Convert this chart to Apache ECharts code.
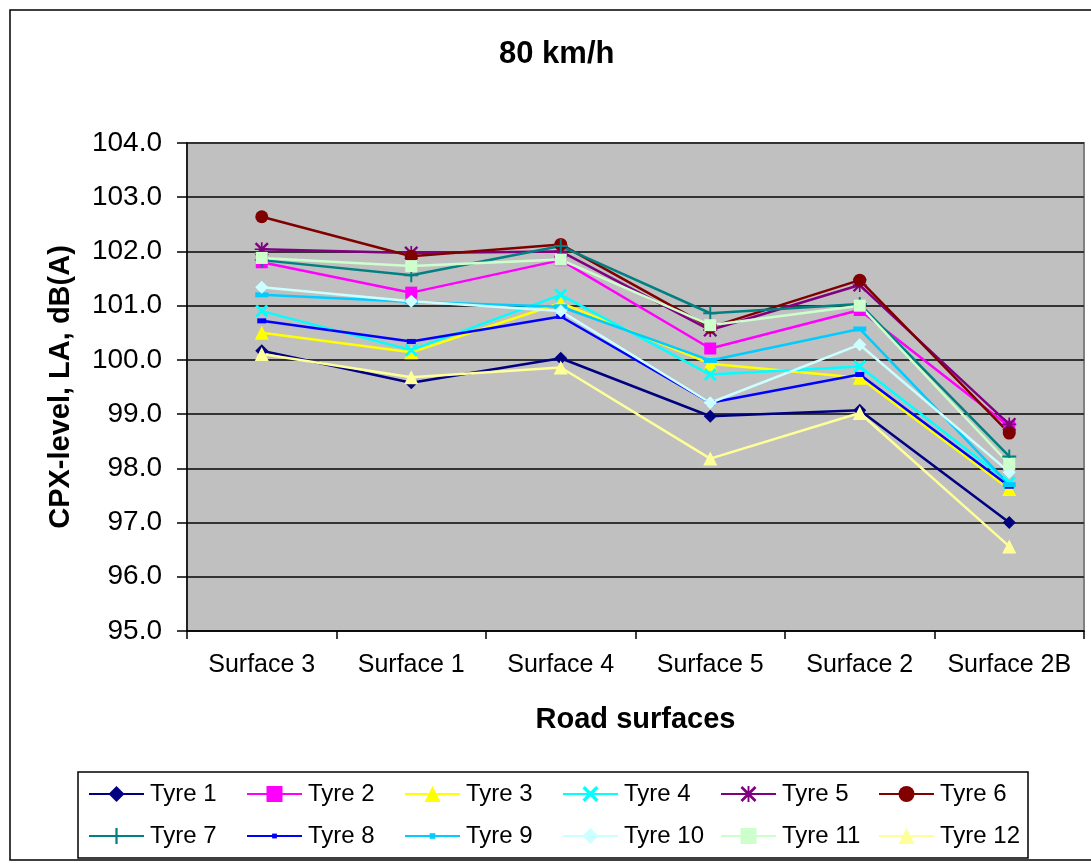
<!DOCTYPE html>
<html>
<head>
<meta charset="utf-8">
<title>80 km/h</title>
<script src="https://cdn.jsdelivr.net/npm/echarts@6/dist/echarts.min.js"></script>
<style>
  html, body { margin: 0; padding: 0; background: #fff; }
  #chart { width: 1091px; height: 863px; }
</style>
</head>
<body>
<div id="chart"></div>
<script>
// road surfaces on the x axis
const surfaces = ['Surface 3', 'Surface 1', 'Surface 4', 'Surface 5', 'Surface 2', 'Surface 2B']

// CPX-level per tyre, dB(A)
const tyre1 = [100.17, 99.58, 100.03, 98.96, 99.07, 97.00]
const tyre2 = [101.80, 101.24, 101.84, 100.21, 100.92, 98.77]
const tyre3 = [100.50, 100.14, 101.05, 99.93, 99.67, 97.62]
const tyre4 = [100.90, 100.18, 101.20, 99.73, 99.88, 97.74]
const tyre5 = [102.04, 101.97, 102.00, 100.55, 101.38, 98.81]
const tyre6 = [102.64, 101.91, 102.13, 100.60, 101.47, 98.65]
const tyre7 = [101.84, 101.56, 102.10, 100.86, 101.03, 98.22]
const tyre8 = [100.72, 100.34, 100.80, 99.21, 99.73, 97.67]
const tyre9 = [101.20, 101.07, 100.98, 99.99, 100.57, 97.70]
const tyre10 = [101.34, 101.08, 100.90, 99.21, 100.28, 97.93]
const tyre11 = [101.88, 101.73, 101.85, 100.64, 101.00, 98.08]
const tyre12 = [100.11, 99.68, 99.86, 98.18, 99.02, 96.56]

const yTicks = [95, 96, 97, 98, 99, 100, 101, 102, 103, 104]

// marker shapes (excel style)
const X_PATH = 'path://M0,1.5L1.5,0L10,8.5L8.5,10Z M8.5,0L10,1.5L1.5,10L0,8.5Z'
const PLUS_PATH = 'path://M4.3,0H5.7V10H4.3Z M0,4.3H10V5.7H0Z'
const STAR_PATH = 'path://M4.4,0H5.6V10H4.4Z M0,4.4H10V5.6H0Z M0,1.2L1.2,0L10,8.8L8.8,10Z M8.8,0L10,1.2L1.2,10L0,8.8Z'

const tyres = [
  {name: 'Tyre 1', data: tyre1, color: '#000080', symbol: 'diamond', size: 13, legendH: 20},
  {name: 'Tyre 2', data: tyre2, color: '#FF00FF', symbol: 'rect', size: 12, legendH: 20},
  {name: 'Tyre 3', data: tyre3, color: '#FFFF00', symbol: 'triangle', size: 14, legendH: 20},
  {name: 'Tyre 4', data: tyre4, color: '#00FFFF', symbol: X_PATH, size: 13, legendH: 20},
  {name: 'Tyre 5', data: tyre5, color: '#800080', symbol: STAR_PATH, size: 14, legendH: 20},
  {name: 'Tyre 6', data: tyre6, color: '#800000', symbol: 'circle', size: 13, legendH: 20},
  {name: 'Tyre 7', data: tyre7, color: '#008080', symbol: PLUS_PATH, size: 14, legendH: 20},
  {name: 'Tyre 8', data: tyre8, color: '#0000FF', symbol: 'rect', size: [9, 5], legendH: 6},
  {name: 'Tyre 9', data: tyre9, color: '#00CCFF', symbol: 'rect', size: [13, 5], legendH: 7},
  {name: 'Tyre 10', data: tyre10, color: '#CCFFFF', symbol: 'diamond', size: 13, legendH: 20},
  {name: 'Tyre 11', data: tyre11, color: '#CCFFCC', symbol: 'rect', size: 12, legendH: 20},
  {name: 'Tyre 12', data: tyre12, color: '#FFFF99', symbol: 'triangle', size: 14, legendH: 20}
]

const FONT = 'Liberation Sans, Arial, sans-serif'

const chart = echarts.init(document.getElementById('chart'))

// one legend per item so columns line up like excel's grid legend
const legends = tyres.map((t, i) => ({
  data: [t.name],
  left: 88 + (i % 6) * 158,
  top: i < 6 ? 782 : 824,
  padding: 0,
  itemWidth: 55,
  itemHeight: t.legendH,
  itemGap: 0,
  selectedMode: false,
  textStyle: {fontFamily: FONT, fontSize: 24, color: '#000', lineHeight: 24, padding: [0, 0, 0, 1]}
}))

const option = {
  animation: false,
  backgroundColor: '#fff',
  title: {
    text: '80 km/h',
    left: 499,
    top: 39,
    padding: 0,
    textStyle: {fontFamily: FONT, fontSize: 31, fontWeight: 'bold', color: '#000'}
  },
  legend: legends,
  grid: {
    left: 187,
    top: 143,
    width: 897,
    height: 488,
    show: true,
    backgroundColor: '#C0C0C0',
    borderColor: '#808080',
    borderWidth: 2
  },
  xAxis: {
    type: 'category',
    data: surfaces,
    boundaryGap: true,
    name: 'Road surfaces',
    nameLocation: 'middle',
    nameGap: 74,
    nameTextStyle: {fontFamily: FONT, fontSize: 29, fontWeight: 'bold', color: '#000'},
    axisLine: {lineStyle: {color: '#000', width: 1.5}},
    axisTick: {show: true, length: 8, lineStyle: {color: '#000', width: 1.5}},
    axisLabel: {fontFamily: FONT, fontSize: 25, color: '#000', margin: 22, interval: 0},
    splitLine: {show: false}
  },
  yAxis: {
    type: 'value',
    min: yTicks[0],
    max: yTicks[yTicks.length - 1],
    interval: 1,
    name: 'CPX-level, LA, dB(A)',
    nameLocation: 'middle',
    nameGap: 112,
    nameTextStyle: {fontFamily: FONT, fontSize: 29, fontWeight: 'bold', color: '#000'},
    axisLine: {show: true, lineStyle: {color: '#000', width: 1.5}},
    axisTick: {show: true, length: 10, lineStyle: {color: '#000', width: 1.5}},
    axisLabel: {
      fontFamily: FONT,
      fontSize: 28,
      color: '#000',
      margin: 25,
      formatter: v => v.toFixed(1)
    },
    splitLine: {show: true, lineStyle: {color: '#333', width: 2}}
  },
  graphic: [
    {
      type: 'rect',
      shape: {x: 10, y: 10, width: 1100, height: 850},
      style: {fill: 'none', stroke: '#000', lineWidth: 1.5},
      silent: true,
      z: -1
    },
    {
      type: 'rect',
      shape: {x: 78, y: 772, width: 950, height: 86},
      style: {fill: 'none', stroke: '#000', lineWidth: 1.5},
      silent: true
    }
  ],
  series: tyres.map(t => ({
    name: t.name,
    type: 'line',
    data: t.data,
    symbol: t.symbol,
    symbolSize: t.size,
    showAllSymbol: true,
    lineStyle: {color: t.color, width: 2.5},
    itemStyle: {color: t.color, borderWidth: 0},
    emphasis: {disabled: true}
  }))
}

chart.setOption(option)
</script>
</body>
</html>
